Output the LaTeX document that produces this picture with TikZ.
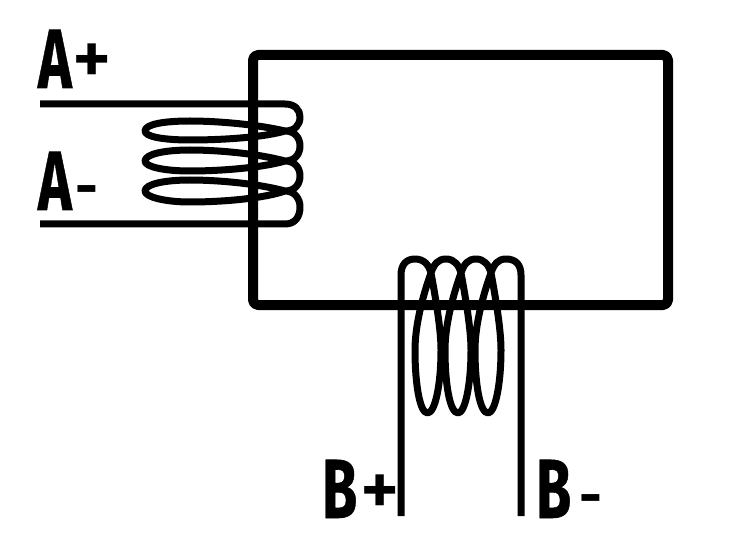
\documentclass[tikz,border=0pt]{standalone}
\usepackage{fontspec}
\setmainfont{Fira Sans}[BoldFont={Fira Sans Bold},BoldFeatures={FakeBold=0.7}]
\newfontfamily\plusfont{Fira Sans Medium}
\newfontfamily\minusfont{Fira Sans Bold}
\newcommand{\sgnplus}[1]{\raisebox{#1}{\mdseries\plusfont\fontsize{76bp}{76bp}\selectfont +}}
\newcommand{\sgnminus}[1]{\raisebox{#1}{\mdseries\minusfont\fontsize{56bp}{56bp}\selectfont -}}
\tikzset{
  frame/.style={line width=10bp,line join=round,rounded corners=5bp},
  coilwire/.style={line width=7bp,line join=round},
  lbl/.style={inner sep=0pt,outer sep=0pt,font=\fontsize{84bp}{84bp}\bfseries,anchor=base west},
}
\begin{document}
\begin{tikzpicture}[x=1bp,y=-1bp]
\useasboundingbox (0,0) rectangle (746,541);
\draw[frame] (253,55) rectangle (668,305);
% coil A
\draw[coilwire] (40,104) -- (285,104)
  .. controls (295,104) and (300,110) .. (300,117)
  .. controls (300,125) and (295,131) .. (285,131)
  .. controls (255,124) and (215,121) .. (190,121)
  .. controls (165,121) and (145,124) .. (145,131)
  .. controls (145,137) and (165,140) .. (190,140)
  .. controls (225,140) and (265,137) .. (285,131)
  .. controls (295,131) and (300,138) .. (300,146)
  .. controls (300,154) and (295,161) .. (285,161)
  .. controls (255,153) and (215,150) .. (190,150)
  .. controls (165,150) and (145,154) .. (145,161)
  .. controls (145,167) and (165,171) .. (190,171)
  .. controls (225,171) and (265,167) .. (285,161)
  .. controls (295,161) and (300,168) .. (300,176)
  .. controls (300,184) and (295,191) .. (285,191)
  .. controls (255,183) and (215,180) .. (190,180)
  .. controls (165,180) and (145,184) .. (145,191)
  .. controls (145,197) and (165,202) .. (190,202)
  .. controls (225,202) and (265,198) .. (285,191)
  .. controls (295,191) and (300,199) .. (300,207)
  .. controls (300,217) and (295,224) .. (285,224)
  -- (40,224);
% coil B
\draw[coilwire] (401,516) -- (401,275)
  .. controls (401,265) and (406,259) .. (415,259)
  .. controls (424,259) and (429,265) .. (431,273)
  .. controls (436,300) and (441,330) .. (441,350)
  .. controls (441,385) and (435,413) .. (427.5,413)
  .. controls (420,413) and (415,385) .. (415,350)
  .. controls (415,325) and (423,295) .. (431,273)
  .. controls (434,264) and (438,259) .. (446,259)
  .. controls (454,259) and (459,265) .. (461,273)
  .. controls (466,300) and (471,330) .. (471,350)
  .. controls (471,385) and (465,413) .. (458,413)
  .. controls (450,413) and (445,385) .. (445,350)
  .. controls (445,325) and (453,295) .. (461,273)
  .. controls (464,264) and (468,259) .. (476,259)
  .. controls (484,259) and (489,265) .. (491,273)
  .. controls (496,300) and (501,330) .. (501,350)
  .. controls (501,385) and (495,413) .. (488,413)
  .. controls (480,413) and (475,385) .. (475,350)
  .. controls (475,325) and (483,295) .. (491,273)
  .. controls (494,264) and (498,259) .. (506,259)
  .. controls (516,259) and (521,265) .. (521,275)
  -- (521,516);
% labels
\node[lbl] (aplus) at (38,88) {\scalebox{.68}[1]{A}\hspace{1bp}\sgnplus{3bp}};
\node[lbl] (aminus) at (38,210) {\scalebox{.68}[1]{A}\hspace{4bp}\sgnminus{3bp}};
\node[lbl] (bplus) at (322,518) {\scalebox{.68}[1]{B}\hspace{3bp}\sgnplus{3bp}};
\node[lbl] (bminus) at (536,518) {\scalebox{.68}[1]{B}\hspace{8bp}\sgnminus{3bp}};
\end{tikzpicture}
\end{document}
